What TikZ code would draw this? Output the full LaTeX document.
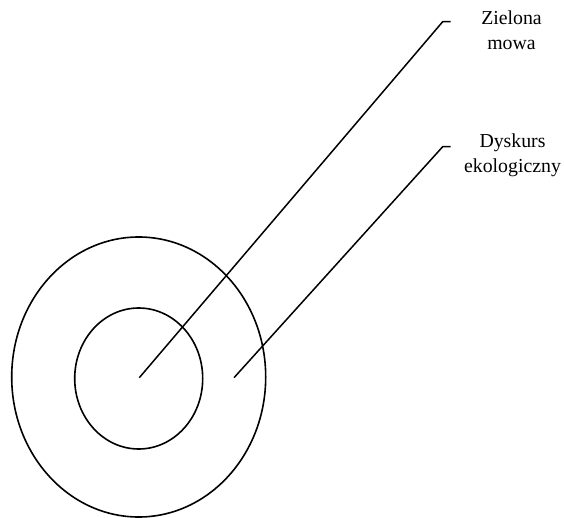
\documentclass[tikz,border=0pt]{standalone}
\usepackage{fontspec}
\setmainfont{Liberation Serif}
\usetikzlibrary{shapes.geometric}
\begin{document}
\begin{tikzpicture}[x=1pt,y=-1pt,
  ring/.style={draw,ellipse,line width=1.6pt,inner sep=0pt},
  leader/.style={draw,line width=1.5pt},
  lbl/.style={align=center,font=\fontsize{19.8}{25}\selectfont,inner sep=0pt}]
\useasboundingbox (0,0) rectangle (564,518);
\node[ring,minimum width=254pt,minimum height=280pt] (outer) at (138.7,377) {};
\node[ring,minimum width=128pt,minimum height=141pt] (inner) at (138.7,378.5) {};
\coordinate (s1) at (139.3,377.7);
\coordinate (k1) at (442.7,21.7);
\coordinate (e1) at (450.7,21.7);
\coordinate (s2) at (234,377.7);
\coordinate (k2) at (442.7,146.7);
\coordinate (e2) at (450.7,146.7);
\node[lbl] (t1) at (511.5,30.5) {Zielona\\mowa};
\node[lbl] (t2) at (512.5,155.5) {Dyskurs\\ekologiczny};
\draw[leader] (s1) -- (k1) -- (e1);
\draw[leader] (s2) -- (k2) -- (e2);
\end{tikzpicture}
\end{document}
